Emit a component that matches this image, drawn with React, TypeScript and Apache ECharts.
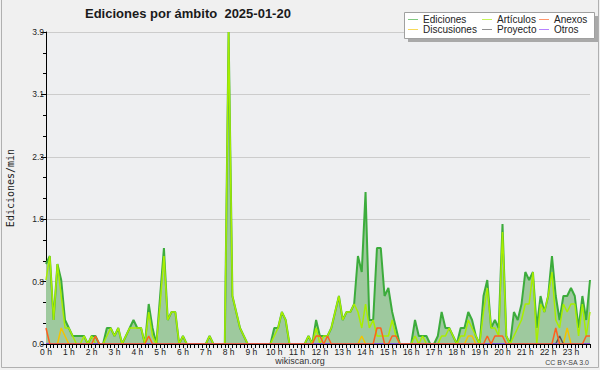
import React, { useEffect, useRef } from "react";
import * as echarts from "echarts";

// Hour labels (every 6th 10-minute slot)
const hourLabels = [
  "0 h", "1 h", "2 h", "3 h", "4 h", "5 h", "6 h", "7 h", "8 h", "9 h", "10 h", "11 h",
  "12 h", "13 h", "14 h", "15 h", "16 h", "17 h", "18 h", "19 h", "20 h", "21 h", "22 h", "23 h",
];
const minuteSteps = ["00", "10", "20", "30", "40", "50"];

// Ediciones/min per 10-minute slot (144 slots)
const ediciones = [
  1.0, 1.1, 0.3, 1.0, 0.8, 0.3, 0.2, 0.1, 0.1, 0.1, 0.1, 0,
  0.1, 0.1, 0, 0, 0.2, 0.2, 0.1, 0.2, 0, 0.1, 0.2, 0.3,
  0.2, 0.2, 0, 0.5, 0.2, 0, 0.6, 1.2, 0.3, 0.4, 0.4, 0,
  0.1, 0, 0, 0, 0, 0, 0, 0.1, 0, 0, 0, 0,
  3.9, 0.6, 0.4, 0.2, 0.1, 0, 0, 0, 0, 0, 0, 0,
  0.2, 0.2, 0.4, 0.3, 0, 0, 0, 0, 0, 0.1, 0, 0.3,
  0.1, 0.1, 0.1, 0.2, 0.4, 0.6, 0.3, 0.4, 0.4, 0.5, 1.1, 0.9,
  1.9, 0.3, 0.3, 1.2, 1.2, 0.6, 0.7, 0.4, 0.2, 0, 0, 0,
  0, 0.3, 0.1, 0.1, 0.1, 0, 0, 0.1, 0.4, 0.2, 0.2, 0.1,
  0, 0.2, 0.2, 0.4, 0.3, 0.1, 0, 0.6, 0.8, 0.2, 0.3, 0.2,
  1.5, 0.1, 0, 0.4, 0.3, 0.5, 0.9, 0.8, 0.9, 0.2, 0.6, 0.4,
  0.6, 1.1, 0.6, 0.3, 0.6, 0.6, 0.7, 0.6, 0.2, 0.6, 0.3, 0.8,
];

const articulos = [
  0.8, 1.1, 0.3, 1.0, 0.6, 0.2, 0.2, 0.1, 0, 0, 0.1, 0,
  0.1, 0, 0, 0, 0.1, 0.2, 0.1, 0.2, 0, 0.1, 0.2, 0.2,
  0.2, 0.2, 0, 0.4, 0.1, 0, 0.5, 1.1, 0.3, 0.4, 0.4, 0,
  0.1, 0, 0, 0, 0, 0, 0, 0.1, 0, 0, 0, 0,
  3.9, 0.6, 0.4, 0.2, 0.1, 0, 0, 0, 0, 0, 0, 0,
  0.1, 0.2, 0.4, 0.3, 0, 0, 0, 0, 0, 0.1, 0, 0.2,
  0, 0.1, 0.1, 0.2, 0.4, 0.6, 0.3, 0.4, 0.4, 0.5, 0.4, 0.2,
  0.5, 0.2, 0.3, 0.1, 0.1, 0.1, 0.1, 0.3, 0.1, 0, 0, 0,
  0, 0.1, 0, 0.1, 0, 0, 0, 0, 0.1, 0.1, 0.2, 0.1,
  0, 0.1, 0.1, 0.3, 0.2, 0.1, 0, 0.4, 0.7, 0.2, 0.2, 0.1,
  1.4, 0.1, 0, 0.1, 0.2, 0.3, 0.5, 0.5, 0.9, 0, 0.5, 0.4,
  0.6, 0.9, 0.3, 0.2, 0.5, 0.4, 0.5, 0.5, 0.1, 0.5, 0.1, 0.4,
];

// Sparse series: [slot index, value]
const anexosPoints: [number, number][] = [
  [0, 0.2], [13, 0.1], [27, 0.1], [71, 0.1], [72, 0.1], [74, 0.1], [87, 0.2], [88, 0.2],
  [91, 0.1], [92, 0.1], [116, 0.1], [118, 0.1], [119, 0.1], [120, 0.1], [134, 0.2],
  [142, 0.1], [143, 0.1],
];
const discusionesPoints: [number, number][] = [
  [4, 0.2], [5, 0.1], [83, 0.1], [111, 0.1], [112, 0.1], [137, 0.2],
];
const proyectoPoints: [number, number][] = [[135, 0.1]];
const otrosPoints: [number, number][] = [];

const yMax = 3.9;
const yStep = 0.78;

const categories: string[] = [];
hourLabels.forEach((h, hi) => {
  minuteSteps.forEach((m, mi) => {
    categories.push(mi === 0 ? h : `${hi}:${m}`);
  });
});

const expand = (pts: [number, number][]) => {
  const arr = categories.map(() => 0);
  pts.forEach(([i, v]) => {
    arr[i] = v;
  });
  return arr;
};

const COLORS = {
  ediciones: "#3cac3c",
  articulos: "#a8ee00",
  anexos: "#ff5f1f",
  discusiones: "#f3c400",
  proyecto: "#555555",
  otros: "#8f3fff",
};

const SANS = "'Liberation Sans', Arial, sans-serif";

function buildOption() {
  const lineSeries = (name: string, data: number[], color: string, z: number, extra: any = {}) => ({
    name,
    type: "line",
    data,
    symbol: "none",
    showSymbol: false,
    z,
    lineStyle: { color, width: 1.5 },
    itemStyle: { color },
    emphasis: { disabled: true },
    ...extra,
  });

  const legendItems = [
    { name: "Ediciones", color: COLORS.ediciones, x: 408, y: 19 },
    { name: "Artículos", color: COLORS.articulos, x: 482, y: 19 },
    { name: "Anexos", color: COLORS.anexos, x: 539, y: 19 },
    { name: "Discusiones", color: COLORS.discusiones, x: 408, y: 29 },
    { name: "Proyecto", color: COLORS.proyecto, x: 482, y: 29 },
    { name: "Otros", color: COLORS.otros, x: 539, y: 29 },
  ];

  const legendGraphics: any[] = [
    { type: "rect", shape: { x: 408, y: 16, width: 190, height: 26 }, style: { fill: "#a9a9a9" }, z: 100 },
    { type: "rect", shape: { x: 404.5, y: 12.5, width: 190, height: 26 }, style: { fill: "#ffffff", stroke: "#a0a0a0", lineWidth: 1 }, z: 101 },
  ];
  legendItems.forEach((it) => {
    legendGraphics.push({
      type: "line",
      shape: { x1: it.x, y1: it.y + 0.5, x2: it.x + 10, y2: it.y + 0.5 },
      style: { stroke: it.color, lineWidth: 1, opacity: 0.65 },
      z: 102,
    });
    legendGraphics.push({
      type: "text",
      x: it.x + 15,
      y: it.y,
      style: {
        text: it.name,
        fill: "#222",
        font: `10px ${SANS}`,
        textAlign: "left",
        textVerticalAlign: "middle",
      },
      z: 102,
    });
  });

  return {
    animation: false,
    backgroundColor: "#f0f0f0",
    grid: {
      left: 46,
      right: 10,
      top: 32,
      bottom: 26,
      show: true,
      backgroundColor: "#eeeff1",
      borderWidth: 0,
      containLabel: false,
    },
    xAxis: {
      type: "category",
      data: categories,
      boundaryGap: false,
      z: 10,
      axisLine: { show: true, lineStyle: { color: "#000", width: 1 } },
      axisTick: { show: true, interval: 0, length: 4, inside: false, lineStyle: { color: "#000" } },
      axisLabel: {
        interval: 5,
        color: "#222",
        fontSize: 8.5,
        fontFamily: SANS,
        margin: 3,
      },
      splitLine: { show: false },
    },
    yAxis: {
      type: "value",
      min: 0,
      max: yMax,
      interval: yStep,
      axisLine: { show: true, lineStyle: { color: "#000", width: 1 } },
      axisTick: { show: true, length: 5, inside: false, lineStyle: { color: "#000" } },
      minorTick: { show: true, splitNumber: 3, length: 3, lineStyle: { color: "#000" } },
      axisLabel: {
        color: "#222",
        fontSize: 8.5,
        fontFamily: SANS,
        margin: 2,
        formatter: (v: number) => v.toFixed(1),
      },
      splitLine: { show: true, lineStyle: { color: "#cccccc", width: 1 } },
    },
    series: [
      lineSeries("Ediciones", ediciones, COLORS.ediciones, 2, {
        lineStyle: { color: COLORS.ediciones, width: 2 },
        areaStyle: { color: "#9ec99e", opacity: 1 },
      }),
      lineSeries("Artículos", articulos, COLORS.articulos, 3),
      lineSeries("Discusiones", expand(discusionesPoints), COLORS.discusiones, 4),
      lineSeries("Proyecto", expand(proyectoPoints), COLORS.proyecto, 4),
      lineSeries("Otros", expand(otrosPoints), COLORS.otros, 4),
      lineSeries("Anexos", expand(anexosPoints), COLORS.anexos, 5),
    ],
    graphic: [
      {
        type: "text",
        x: 85,
        y: 13,
        style: {
          text: "Ediciones por ámbito  2025-01-20",
          fill: "#1a1a1a",
          font: `bold 13px ${SANS}`,
          textAlign: "left",
          textVerticalAlign: "middle",
        },
      },
      {
        type: "text",
        x: 10,
        y: 188,
        rotation: Math.PI / 2,
        style: {
          text: "Ediciones/min",
          fill: "#1a1a1a",
          font: "10px 'DejaVu Sans Mono', monospace",
          textAlign: "center",
          textVerticalAlign: "middle",
        },
      },
      {
        type: "text",
        x: 300,
        y: 361,
        style: {
          text: "wikiscan.org",
          fill: "#333",
          font: `9px ${SANS}`,
          textAlign: "center",
          textVerticalAlign: "middle",
        },
      },
      {
        type: "text",
        x: 589,
        y: 362,
        style: {
          text: "CC BY-SA 3.0",
          fill: "#444",
          font: `7px ${SANS}`,
          textAlign: "right",
          textVerticalAlign: "middle",
        },
      },
      {
        type: "polyline",
        shape: { points: [[1.5, 0], [1.5, 367.5], [598.5, 367.5], [598.5, 0]] },
        style: { stroke: "#b0b0b0", lineWidth: 1, fill: "none" },
        z: 50,
      },
      ...legendGraphics,
    ],
  };
}

export default function App() {
  const ref = useRef<HTMLDivElement>(null);
  useEffect(() => {
    document.body.style.margin = "0";
    if (!ref.current) return;
    const chart = echarts.init(ref.current, null, { renderer: "svg" });
    chart.setOption(buildOption() as any);
    return () => {
      chart.dispose();
    };
  }, []);
  return <div ref={ref} style={{ width: 600, height: 370 }} />;
}
